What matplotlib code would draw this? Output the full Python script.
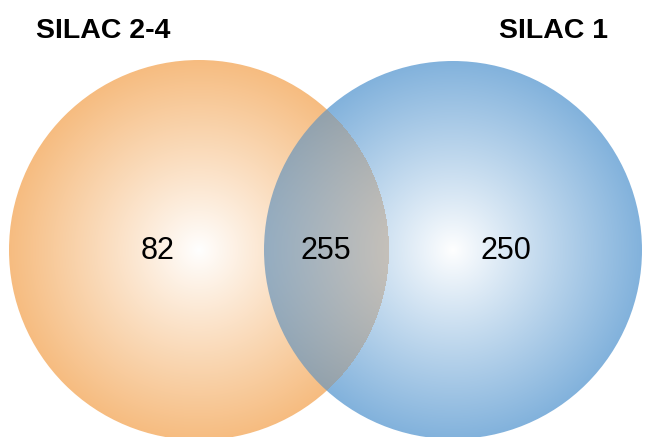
import numpy as np
import matplotlib.pyplot as plt
from matplotlib.patches import Circle

# venn counts
set_names = ['SILAC 2-4', 'SILAC 1']
only_left = 82
both = 255
only_right = 250
counts = [only_left, both, only_right]

W, H = 646, 437

# circle layout (pixels)
c_left, r_left = (199, 250), 190
c_right, r_right = (453, 250), 189

orange = np.array([246, 188, 128]) / 255.
blue = np.array([130, 178, 220]) / 255.


def radial(cx, cy, R, edge, X, Y, p=0.95):
    t = np.clip(np.hypot(X - cx, Y - cy) / R, 0, 1) ** p
    img = (1 - t)[..., None] * np.ones(3) + t[..., None] * edge
    return img


yy, xx = np.mgrid[0:H, 0:W] + 0.5

fig = plt.figure(figsize=(W / 100, H / 100), dpi=100)
ax = fig.add_axes([0, 0, 1, 1])
ax.set_xlim(0, W)
ax.set_ylim(H, 0)
ax.axis('off')

img_l = radial(*c_left, r_left, orange, xx, yy)
img_r = radial(*c_right, r_right, blue, xx, yy)

# overlap: blue laid over orange, a bit darker
inside_l = np.hypot(xx - c_left[0], yy - c_left[1]) <= r_left
mix = (0.3 * img_l + 0.7 * img_r) * 0.89
img_r2 = np.where(inside_l[..., None], mix, img_r)

circ_l = Circle(c_left, r_left, transform=ax.transData, facecolor='none', edgecolor='none')
circ_r = Circle(c_right, r_right, transform=ax.transData, facecolor='none', edgecolor='none')
ax.add_patch(circ_l)
ax.add_patch(circ_r)

im1 = ax.imshow(img_l, extent=(0, W, H, 0), interpolation='bilinear')
im1.set_clip_path(circ_l)
im2 = ax.imshow(img_r2, extent=(0, W, H, 0), interpolation='bilinear')
im2.set_clip_path(circ_r)
ax.set_xlim(0, W)
ax.set_ylim(H, 0)

font = 'Liberation Sans'
ax.text(36, 38, set_names[0], fontsize=20.5, fontweight='bold', family=font,
        ha='left', va='baseline')
ax.text(608, 38, set_names[1], fontsize=20.5, fontweight='bold', family=font,
        ha='right', va='baseline')

label_x = [158, 326, 506]
for x, n in zip(label_x, counts):
    ax.text(x, 251, str(n), fontsize=22, family=font, ha='center', va='center')

fig.savefig('out.png', dpi=100)
